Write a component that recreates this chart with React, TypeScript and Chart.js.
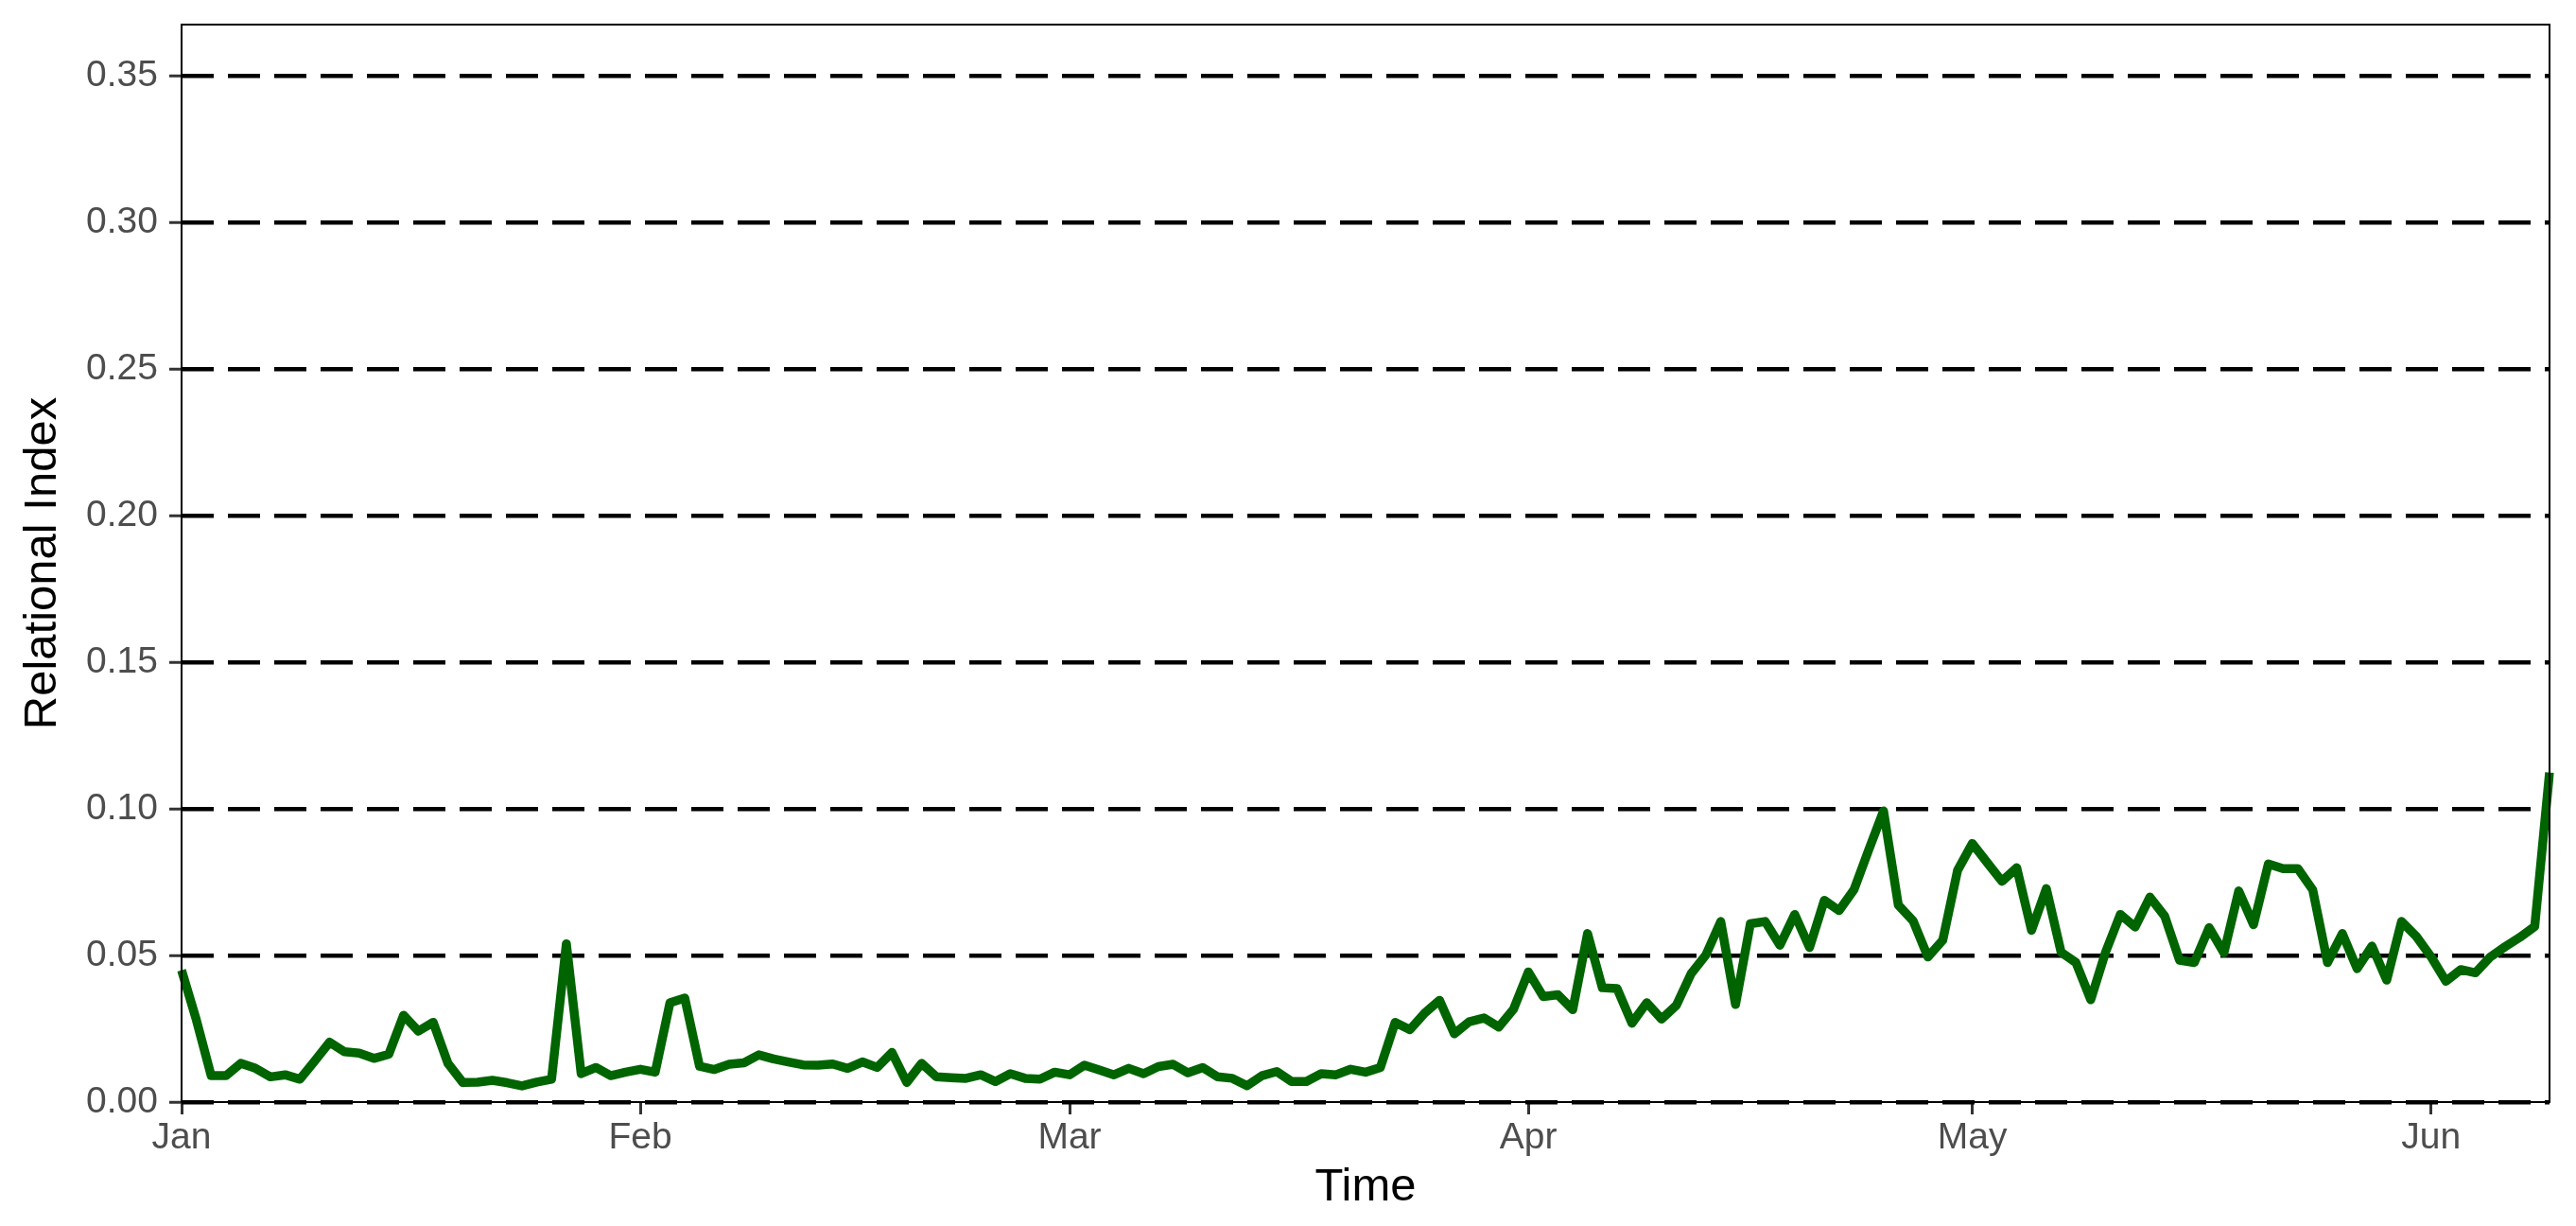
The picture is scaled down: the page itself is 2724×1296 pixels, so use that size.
import React, { useEffect, useRef } from "react";
import { Chart, registerables } from "chart.js";

Chart.register(...registerables);

// Daily values of the Relational Index, 2020
const janValues = [
  0.045, 0.028, 0.009, 0.009, 0.0132, 0.0115, 0.0086, 0.0093, 0.0078, 0.014,
  0.0204, 0.0172, 0.0167, 0.0149, 0.0163, 0.0296, 0.0242, 0.0272, 0.0132, 0.0067,
  0.0068, 0.0074, 0.0066, 0.0055, 0.0068, 0.0078, 0.054, 0.0097, 0.0118, 0.009,
  0.0102,
];
const febValues = [
  0.0112, 0.0102, 0.0339, 0.0355, 0.0122, 0.0111, 0.0129, 0.0134, 0.0161, 0.0147,
  0.0137, 0.0127, 0.0126, 0.013, 0.0115, 0.0137, 0.0118, 0.0169, 0.0067, 0.0132,
  0.0086, 0.0083, 0.0081, 0.0093, 0.007, 0.0097, 0.0081, 0.0078, 0.0102,
];
const marValues = [
  0.0093, 0.0126, 0.011, 0.0093, 0.0115, 0.0097, 0.0121, 0.0129, 0.01, 0.0118,
  0.0086, 0.0081, 0.0056, 0.009, 0.0104, 0.007, 0.007, 0.0097, 0.0093, 0.0112,
  0.0102, 0.0118, 0.0272, 0.0247, 0.0304, 0.0347, 0.0233, 0.0274, 0.0287, 0.0256,
  0.0317,
];
const aprValues = [
  0.0444, 0.036, 0.0366, 0.0315, 0.0575, 0.039, 0.0387, 0.0269, 0.0339, 0.0283,
  0.033, 0.0438, 0.0502, 0.0616, 0.0333, 0.0608, 0.0616, 0.0535, 0.064, 0.0527,
  0.0688, 0.0653, 0.0724, 0.086, 0.0993, 0.0672, 0.0618, 0.0495, 0.0552, 0.079,
];
const mayValues = [
  0.0882, 0.0817, 0.0753, 0.0799, 0.0586, 0.0728, 0.0511, 0.0476, 0.0349, 0.0511,
  0.064, 0.0597, 0.0699, 0.0634, 0.0484, 0.0476, 0.0595, 0.0509, 0.072, 0.0605,
  0.0812, 0.0796, 0.0796, 0.0724, 0.0476, 0.0575, 0.0455, 0.0532, 0.0416, 0.0616,
  0.0565,
];
const junValues = [0.0495, 0.0412, 0.0452, 0.0441, 0.0495, 0.053, 0.0562, 0.0599, 0.1124];

const monthNames = ["Jan", "Feb", "Mar", "Apr", "May", "Jun"];
const monthSeries = [janValues, febValues, marValues, aprValues, mayValues, junValues];
const yTickValues = [0, 0.05, 0.1, 0.15, 0.2, 0.25, 0.3, 0.35];
const yMax = 0.3675;

// categories: one date label per value, "2020-MM-DD"
const dateLabels: string[] = [];
const values: number[] = [];
monthSeries.forEach((arr, m) => {
  arr.forEach((v, i) => {
    dateLabels.push(`2020-${String(m + 1).padStart(2, "0")}-${String(i + 1).padStart(2, "0")}`);
    values.push(v);
  });
});

const FONT = "'Liberation Sans', Arial, Helvetica, sans-serif";

const framePlugin = {
  id: "panelFrame",
  afterDraw(chart: any) {
    const { ctx, chartArea } = chart;
    ctx.save();
    ctx.strokeStyle = "#000000";
    ctx.lineWidth = 2;
    ctx.strokeRect(chartArea.left, chartArea.top, chartArea.right - chartArea.left, chartArea.bottom - chartArea.top);
    ctx.restore();
  },
};

export default function App() {
  const canvasRef = useRef<HTMLCanvasElement | null>(null);

  useEffect(() => {
    const canvas = canvasRef.current;
    if (!canvas) return;
    const chart = new Chart(canvas, {
      type: "line",
      data: {
        labels: dateLabels,
        datasets: [
          {
            label: "Relational Index",
            data: values,
            borderColor: "#006400",
            borderWidth: 9.5,
            borderJoinStyle: "round",
            borderCapStyle: "butt",
            pointRadius: 0,
            tension: 0,
            fill: false,
          },
        ],
      },
      options: {
        animation: false,
        responsive: false,
        devicePixelRatio: 1,
        layout: { padding: { top: 26, right: 28, left: 0, bottom: 0 } },
        plugins: {
          legend: { display: false },
          tooltip: { enabled: false },
          title: { display: false },
        },
        scales: {
          x: {
            type: "category",
            offset: false,
            afterFit(scale: any) {
              scale.height = 131;
              scale.paddingLeft = 0;
              scale.paddingRight = 0;
            },
            grid: {
              display: true,
              drawOnChartArea: false,
              drawTicks: true,
              tickLength: 13,
              tickWidth: 3,
              tickColor: "#333333",
              color: "#333333",
            },
            border: { display: false },
            ticks: {
              autoSkip: false,
              maxRotation: 0,
              minRotation: 0,
              padding: 2,
              color: "#4D4D4D",
              font: { family: FONT, size: 39 },
              callback(this: any, value: any) {
                const lab: string = this.getLabelForValue(value);
                if (lab && lab.endsWith("-01")) {
                  const m = parseInt(lab.slice(5, 7), 10) - 1;
                  return monthNames[m];
                }
                return null;
              },
            },
            title: {
              display: true,
              text: "Time",
              color: "#000000",
              font: { family: FONT, size: 49 },
              padding: { top: 0, bottom: 11 },
            },
          },
          y: {
            type: "linear",
            min: 0,
            max: yMax,
            afterFit(scale: any) {
              scale.width = 192;
              scale.paddingTop = 0;
              scale.paddingBottom = 0;
            },
            afterBuildTicks(scale: any) {
              scale.ticks = yTickValues.map((v) => ({ value: v }));
            },
            grid: {
              display: true,
              drawOnChartArea: true,
              drawTicks: true,
              color: "#000000",
              lineWidth: 4.5,
              tickLength: 13,
              tickWidth: 3,
              tickColor: "#333333",
              tickBorderDash: [],
            },
            border: { display: false, dash: [34, 15], dashOffset: 0 },
            ticks: {
              padding: 12,
              color: "#4D4D4D",
              font: { family: FONT, size: 39 },
              callback(value: any) {
                return Number(value).toFixed(2);
              },
            },
            title: {
              display: true,
              text: "Relational Index",
              color: "#000000",
              font: { family: FONT, size: 49 },
              padding: { top: 16, bottom: 0 },
            },
          },
        },
      },
      plugins: [framePlugin],
    });
    return () => chart.destroy();
  }, []);

  return (
    <div style={{ position: "fixed", left: 0, top: 0, width: 2724, height: 1296, background: "#ffffff" }}>
      <canvas ref={canvasRef} width={2724} height={1296} style={{ display: "block", width: 2724, height: 1296 }} />
    </div>
  );
}
